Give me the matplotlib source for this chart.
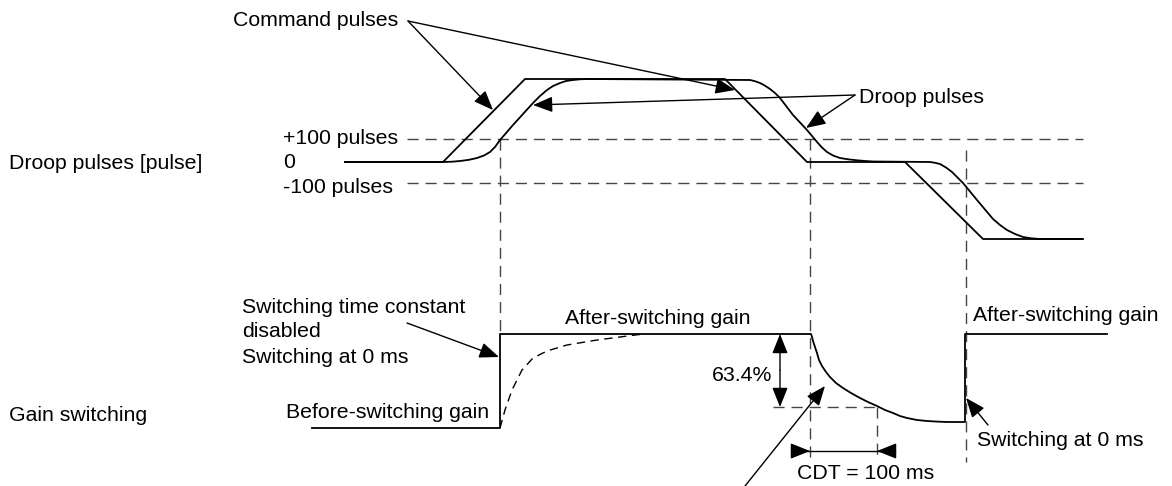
import matplotlib
matplotlib.use("Agg")
import matplotlib.pyplot as plt

plt.rcParams['font.family'] = ['Liberation Sans', 'DejaVu Sans']

# Diagram coordinates (pixel-like units, y grows downward)
# Command pulses (trapezoid profile)
cmd_x = [345, 443, 525, 725, 807, 905, 983, 1083]
cmd_y = [162, 162, 79, 79, 162, 162, 239, 239]

# Droop pulses (lagging, rounded profile)
droop_x = [345, 443, 452, 460, 469, 477, 484, 490, 495, 500, 513, 533, 540, 547,
           553, 560, 566, 573, 580, 587,
           750, 755, 760, 765, 770, 775, 780, 793, 807, 817, 822, 827, 833,
           840, 848, 857, 865, 873,
           930, 935, 940, 946, 952, 957, 963, 977, 993, 1000, 1007, 1015, 1023,
           1031, 1040, 1082]
droop_y = [162, 162, 161.7, 161, 159.8, 158, 155.5, 152, 147, 140, 125, 103, 96, 90,
           86, 83, 81, 80, 79.3, 79,
           80, 81.2, 83, 85.7, 89, 93, 98, 115, 130, 142, 147.5, 152, 155.5,
           158, 159.3, 160.3, 161, 161.5,
           162, 162.8, 164, 167.5, 172, 177, 183, 200, 219, 225, 230, 234, 237,
           238.3, 239, 239]

# Gain switching (solid)
gain_x = [312, 500, 500, 811, 812, 813, 815, 817, 819, 822, 826, 830, 836, 843,
          851, 860, 868, 877, 885, 893, 900, 907, 917, 927, 937, 947, 956,
          965, 965, 1107]
gain_y = [428, 428, 334, 334, 337, 341, 347, 353, 360, 366, 372, 377, 383, 388,
          393, 398, 402, 406, 410, 413, 416, 418, 420, 421, 421.6, 422, 422,
          422, 334, 334]

# Gain with time constant (dashed)
gain_tc_x = [500, 505, 512, 522, 533, 547, 567, 597, 620, 643]
gain_tc_y = [428, 410, 390, 370, 358, 351, 345, 340, 337, 334]

# Pulse level lines: +100, -100
level_y = [139, 183]
level_x = (407, 1083)

# Dashed verticals: (x, y_top, y_bottom)
vlines = [(500, 139, 334), (810, 139, 460), (966, 150, 462), (877, 407, 460)]

fig = plt.figure(figsize=(11.72, 4.86), dpi=100)
ax = fig.add_axes([0, 0, 1, 1])
ax.set_xlim(0, 1172)
ax.set_ylim(486, 0)
ax.axis('off')

dash = dict(color='#444444', lw=1.0, dashes=(8, 5))
for y in level_y:
    ax.plot(level_x, [y, y], **dash)
for x, y0, y1 in vlines:
    ax.plot([x, x], [y0, y1], **dash)
ax.plot([773, 877], [407, 407], **dash)
ax.plot(gain_tc_x, gain_tc_y, color='k', lw=1.0, dashes=(6, 4))

ax.plot(cmd_x, cmd_y, color='k', lw=1.3)
ax.plot(droop_x, droop_y, color='k', lw=1.3)
ax.plot(gain_x, gain_y, color='k', lw=1.3)

fs = 15.3
ax.text(233, 21, "Command pulses", fontsize=fs, va='center')
ax.text(859, 97, "Droop pulses", fontsize=fs, va='center')
ax.text(9, 163, "Droop pulses [pulse]", fontsize=fs, va='center')
ax.text(283, 138, "+100 pulses", fontsize=fs, va='center')
ax.text(283, 162, "0", fontsize=fs, va='center')
ax.text(283, 187, "-100 pulses", fontsize=fs, va='center')
ax.text(242, 307, "Switching time constant", fontsize=fs, va='center')
ax.text(242, 331, "disabled", fontsize=fs, va='center')
ax.text(242, 357, "Switching at 0 ms", fontsize=fs, va='center')
ax.text(565, 318, "After-switching gain", fontsize=fs, va='center')
ax.text(286, 412, "Before-switching gain", fontsize=fs, va='center')
ax.text(9, 415, "Gain switching", fontsize=fs, va='center')
ax.text(712, 375, "63.4%", fontsize=fs, va='center')
ax.text(973, 315, "After-switching gain", fontsize=fs, va='center')
ax.text(977, 440, "Switching at 0 ms", fontsize=fs, va='center')
ax.text(797, 473, "CDT = 100 ms", fontsize=fs, va='center')

arrow = dict(arrowstyle='-|>,head_length=1.0,head_width=0.4', color='k',
             lw=1.0, shrinkA=0, shrinkB=0, mutation_scale=12)

def arr(tail, tip):
    ax.annotate("", xy=tip, xytext=tail, arrowprops=arrow)

arr((408, 21), (493, 110))
arr((408, 21), (735, 90))
arr((855, 95), (533, 105))
arr((855, 95), (806, 128))
arr((407, 323), (499, 357))
arr((745, 486), (825, 386))
arr((988, 425), (966, 398))
arr((780, 370), (780, 334))
arr((780, 370), (780, 407))
arr((795, 451), (810, 451))
arr((895, 451), (877, 451))
ax.plot([795, 895], [451, 451], color='k', lw=1.0)

fig.savefig("out.png", dpi=100, facecolor='white')
